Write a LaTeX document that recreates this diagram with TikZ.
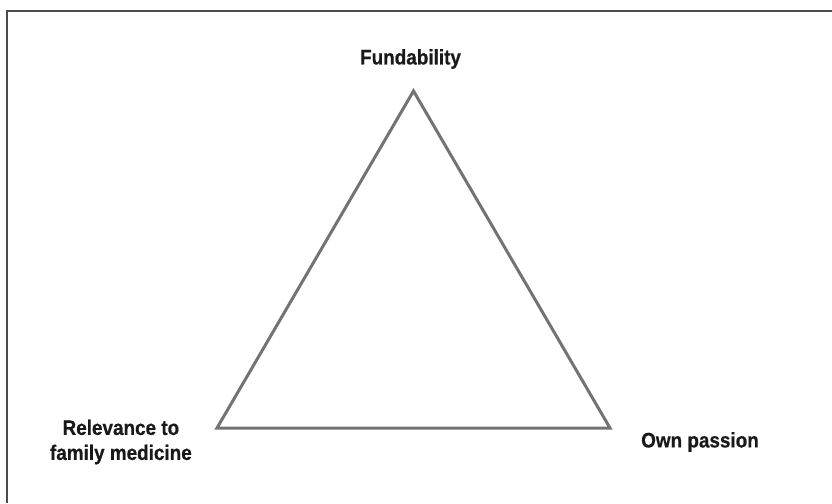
\documentclass[tikz,border=0pt]{standalone}
\usepackage{fontspec}
\setmainfont{Liberation Sans}
\newfontfamily\vertexfont[FakeStretch=0.9, FakeBold=0.6]{Liberation Sans Bold}
\usetikzlibrary{positioning}
\tikzset{
  every picture/.style = {
    x = 1pt,
    y = -1pt,
    node distance = 1.5em and 3em,
  }
  ,
  frame/.style = {
    draw = black!70,
    line width = 2pt
  }
  ,
  side/.style = {
    draw = black!55,
    line width = 3pt
  }
  , % labels of vertices
  label-vertex/.style = {
    font = \vertexfont\fontsize{21}{25}\selectfont,
    text = black!90,
    inner sep = 0pt,
    align = center
  }
}

\begin{document}
\begin{tikzpicture}
\useasboundingbox (0,0) rectangle (832,503);
\draw [frame] (832,11) -- (6.5,11) -- (6.5,503);

\coordinate (top) at (413.5,91);
\coordinate (bl) at (217,428);
\coordinate (br) at (610,428);

\draw [side] (top) -- (bl) -- (br) -- cycle;

\node [label-vertex, above = 22pt of top, xshift = -3pt] (fund) {Fundability};
\node [label-vertex, left = 25pt of bl, yshift = -14pt] (relev) {Relevance to\\family medicine};
\node [label-vertex, right = 31pt of br, yshift = -14pt] (pass) {Own passion};
\end{tikzpicture}
\end{document}
